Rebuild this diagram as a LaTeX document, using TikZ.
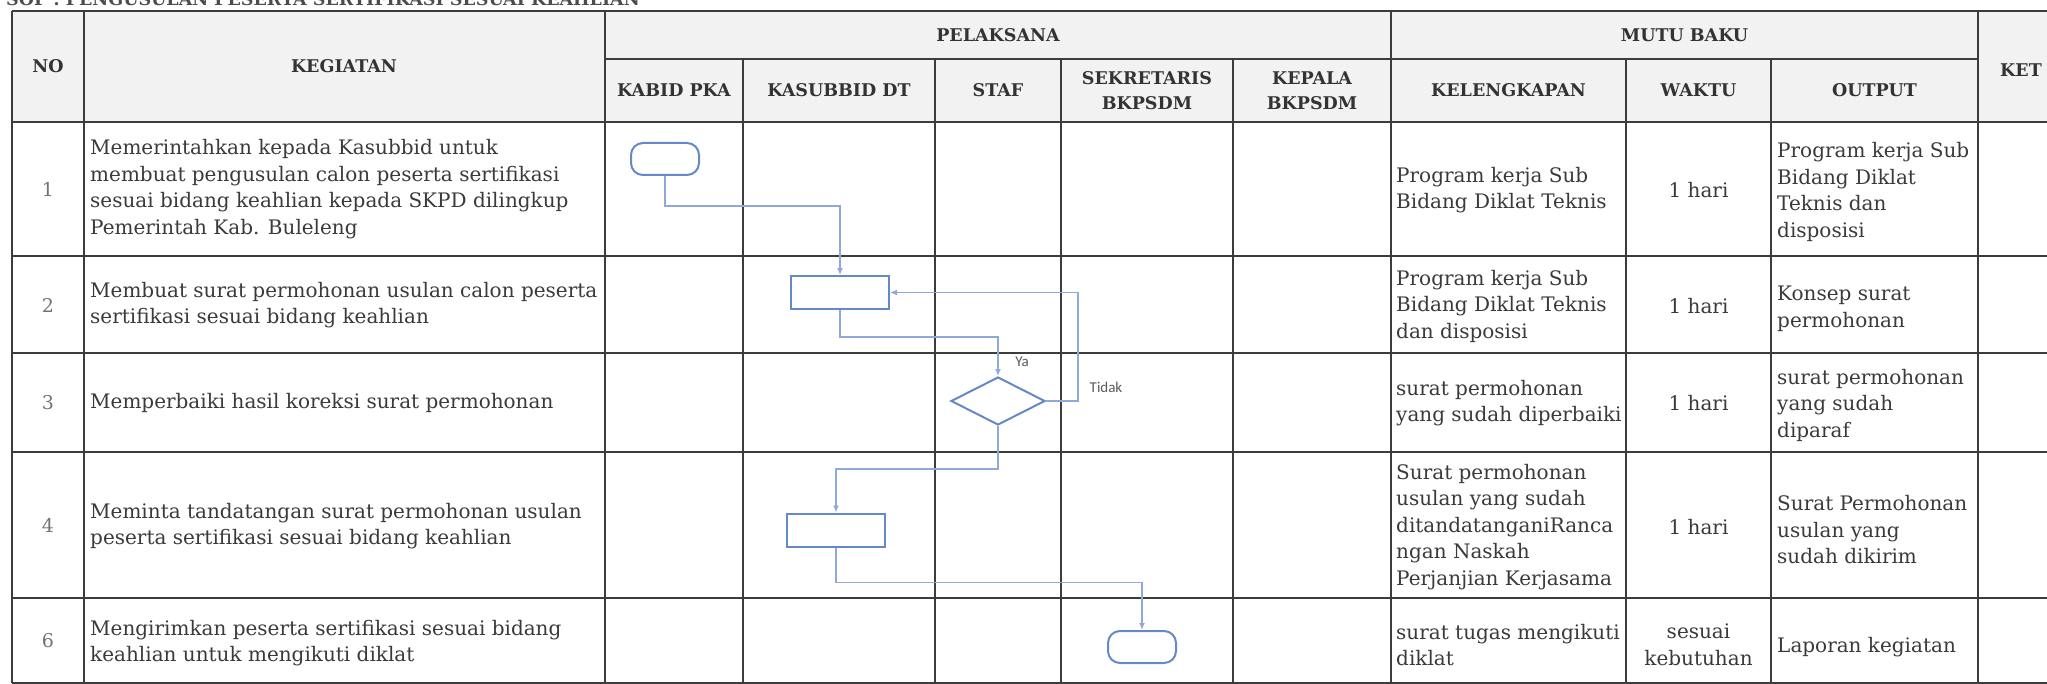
\documentclass[tikz,border=0pt]{standalone}
\usepackage{fontspec}
\setmainfont{DejaVu Serif}
\newfontfamily\lblfont{Carlito}
\usetikzlibrary{shapes.geometric,arrows.meta}
\definecolor{tline}{HTML}{3C3C3C}
\definecolor{shapeblue}{HTML}{6588C8}
\definecolor{connblue}{HTML}{8FA9DB}
\definecolor{txt}{HTML}{3A3A3A}
\definecolor{hdrfill}{HTML}{F2F2F2}
\begin{document}
\begin{tikzpicture}[x=1pt,y=-1pt,
  tablerule/.style={draw=tline,line width=1.6pt},
  hdr/.style={font=\fontsize{17.5}{25}\selectfont\bfseries,text=black!80,align=center,inner sep=0pt},
  body/.style={font=\fontsize{20}{26.5}\selectfont,text=txt,align=left,inner sep=0pt,anchor=west},
  num/.style={font=\fontsize{19}{26.5}\selectfont,text=black!55,inner sep=0pt},
  ctr/.style={font=\fontsize{20}{26.5}\selectfont,text=txt,align=center,inner sep=0pt},
  term/.style={draw=shapeblue,line width=2pt,rounded corners=12pt,minimum width=68pt,minimum height=32pt,inner sep=0pt},
  proc/.style={draw=shapeblue,line width=2pt,minimum width=98pt,minimum height=33pt,inner sep=0pt},
  decision/.style={diamond,draw=shapeblue,line width=2pt,aspect=1.96,minimum width=94pt,minimum height=48pt,inner sep=0pt},
  conn/.style={draw=connblue,line width=1.3pt,-{Latex[length=7pt,width=6pt]}},
  lbl/.style={font=\lblfont\fontsize{15}{18}\selectfont,text=black!65,inner sep=0pt}
]
\useasboundingbox (0,0) rectangle (2047,684);
\clip (0,0) rectangle (2047,684);

% title (cut at top edge, as in the scan)
\node[anchor=base west,font=\fontsize{17.5}{20}\selectfont\bfseries,text=black!70,inner sep=0pt] (title) at (6,6) {SOP : PENGUSULAN PESERTA SERTIFIKASI SESUAI KEAHLIAN};

% header shading
\fill[hdrfill] (12,11) rectangle (2047,122);

% table rules
\foreach \yy in {11,122,256,353,452,598,683} \draw[tablerule] (12,\yy) -- (2047,\yy);
\draw[tablerule] (605,59) -- (1978,59);
\foreach \xx in {12,84,605,1391,1978} \draw[tablerule] (\xx,11) -- (\xx,683);
\foreach \xx in {743,935,1061,1233,1626,1771} \draw[tablerule] (\xx,59) -- (\xx,683);

% header texts
\node[hdr] (hNo) at (48,66) {NO};
\node[hdr] (hKeg) at (344,66) {KEGIATAN};
\node[hdr] (hPel) at (998,35) {PELAKSANA};
\node[hdr] (hMutu) at (1684.5,35) {MUTU BAKU};
\node[hdr] (hKabid) at (674,90.5) {KABID PKA};
\node[hdr] (hKasub) at (839,90.5) {KASUBBID DT};
\node[hdr] (hStaf) at (998,90.5) {STAF};
\node[hdr] (hSek) at (1147,90.5) {SEKRETARIS\\BKPSDM};
\node[hdr] (hKep) at (1312,90.5) {KEPALA\\BKPSDM};
\node[hdr] (hKel) at (1508.5,90.5) {KELENGKAPAN};
\node[hdr] (hWak) at (1698.5,90.5) {WAKTU};
\node[hdr] (hOut) at (1874.5,90.5) {OUTPUT};
\node[hdr] (hKet) at (2021,70) {KET};

% numbers
\node[num] (n1) at (48,189) {1};
\node[num] (n2) at (48,305) {2};
\node[num] (n3) at (48,403) {3};
\node[num] (n4) at (48,525) {4};
\node[num] (n6) at (48,641) {6};

% kegiatan
\node[body] (k1) at (90,189) {Memerintahkan kepada Kasubbid untuk\\membuat pengusulan calon peserta sertifikasi\\sesuai bidang keahlian kepada SKPD dilingkup\\Pemerintah Kab. Buleleng};
\node[body] (k2) at (90,305) {Membuat surat permohonan usulan calon peserta\\sertifikasi sesuai bidang keahlian};
\node[body] (k3) at (90,403) {Memperbaiki hasil koreksi surat permohonan};
\node[body] (k4) at (90,526) {Meminta tandatangan surat permohonan usulan\\peserta sertifikasi sesuai bidang keahlian};
\node[body] (k6) at (90,643) {Mengirimkan peserta sertifikasi sesuai bidang\\keahlian untuk mengikuti diklat};

% kelengkapan
\node[body] (l1) at (1396,190) {Program kerja Sub\\Bidang Diklat Teknis};
\node[body] (l2) at (1396,306) {Program kerja Sub\\Bidang Diklat Teknis\\dan disposisi};
\node[body] (l3) at (1396,403) {surat permohonan\\yang sudah diperbaiki};
\node[body] (l4) at (1396,527) {Surat permohonan\\usulan yang sudah\\ditandatanganiRanca\\ngan Naskah\\Perjanjian Kerjasama};
\node[body] (l6) at (1396,645) {surat tugas mengikuti\\diklat};

% waktu
\node[ctr] (w1) at (1698.5,190) {1 hari};
\node[ctr] (w2) at (1698.5,306) {1 hari};
\node[ctr] (w3) at (1698.5,403) {1 hari};
\node[ctr] (w4) at (1698.5,527) {1 hari};
\node[ctr] (w6) at (1698.5,645) {sesuai\\kebutuhan};

% output
\node[body] (o1) at (1777,192) {Program kerja Sub\\Bidang Diklat\\Teknis dan\\disposisi};
\node[body] (o2) at (1777,309) {Konsep surat\\permohonan};
\node[body] (o3) at (1777,405) {surat permohonan\\yang sudah\\diparaf};
\node[body] (o4) at (1777,530) {Surat Permohonan\\usulan yang\\sudah dikirim};
\node[body] (o6) at (1777,647) {Laporan kegiatan};

% flowchart shapes
\node[term] (t1) at (665,159) {};
\node[proc] (r2) at (840,292.5) {};
\node[decision] (d3) at (998,401) {};
\node[proc] (r4) at (836,530) {};
\node[term] (t6) at (1142,647) {};

% connectors
\draw[conn] (t1.south) -- ++(0,30) -| (r2.north);
\draw[conn] (r2.south) -- ++(0,27) -| (d3.north);
\draw[conn] (d3.east) -- ++(32,0) |- (r2.east);
\draw[conn] (d3.south) -- ++(0,43) -| (r4.north);
\draw[conn] (r4.south) -- ++(0,35) -| (t6.north);

% labels
\node[lbl] (ya) at (1022,362) {Ya};
\node[lbl] (tidak) at (1106,387) {Tidak};
\end{tikzpicture}
\end{document}
